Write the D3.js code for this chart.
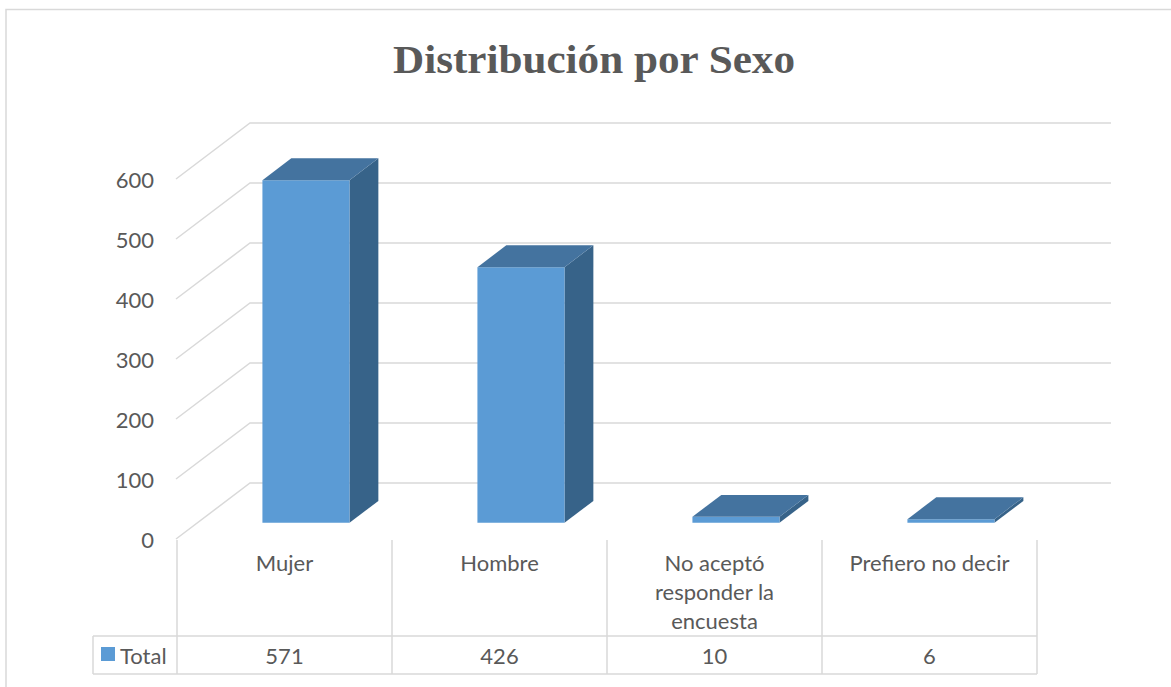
<!DOCTYPE html>
<html><head><meta charset="utf-8">
<script src="https://cdn.jsdelivr.net/npm/d3@7"></script>
<style>html,body{margin:0;padding:0;background:#fff;}</style>
</head><body>
<svg id="c" width="1171" height="687"></svg>
<script>
const categories = ["Mujer", "Hombre", "No aceptó responder la encuesta", "Prefiero no decir"];
const categoryLines = [["Mujer"], ["Hombre"], ["No aceptó", "responder la", "encuesta"], ["Prefiero no decir"]];
const values = [571, 426, 10, 6];
const seriesName = "Total";
const yTicks = [0, 100, 200, 300, 400, 500, 600];
const title = "Distribución por Sexo";

const svg = d3.select("#c");
const textColor = "#595959", gridColor = "#D9D9D9";
const font = "Lato, 'Open Sans', sans-serif";
const fs = 22;

// outer border
svg.append("rect").attr("x", 6).attr("y", 9.5).attr("width", 1200).attr("height", 720)
  .attr("fill", "#fff").attr("stroke", gridColor).attr("stroke-width", 1.5);

svg.append("text").attr("x", 594).attr("y", 73).attr("text-anchor", "middle")
  .attr("font-family", "'Liberation Serif', serif").attr("font-weight", "bold")
  .attr("font-size", 41).attr("fill", textColor)
  .attr("textLength", 402).attr("lengthAdjust", "spacingAndGlyphs").text(title);

const x = d3.scaleBand().domain(categories).range([177, 1037]);
const y = d3.scaleLinear().domain([0, 600]).range([539, 179]);
const DX = 74, DY = -56;
const P = (px, py, z) => [px + DX * z, py + DY * z];

const g = svg.append("g");
// side wall + back wall gridlines
yTicks.forEach(t => {
  const a = P(176, y(t), 0), b = P(176, y(t), 1), c = P(1037, y(t), 1);
  g.append("path").attr("d", `M${a}L${b}L${c}`).attr("fill", "none")
    .attr("stroke", gridColor).attr("stroke-width", 1.5);
  g.append("text").attr("x", 154).attr("y", y(t) + 3).attr("text-anchor", "end")
    .attr("dominant-baseline", "middle").attr("font-family", font).attr("font-size", fs)
    .attr("fill", textColor).text(t);
});

// bars
const z0 = 0.29, z1 = 0.68;
const bw = x.bandwidth() * 0.405;
categories.forEach((cat, i) => {
  const cx = x(cat) + x.bandwidth() / 2;
  const l = cx - bw / 2, r = cx + bw / 2;
  const yb = y(0), yt = y(values[i]);
  const poly = pts => pts.map(p => p.join(",")).join(" ");
  g.append("polygon").attr("points", poly([P(r, yb, z0), P(r, yb, z1), P(r, yt, z1), P(r, yt, z0)]))
    .attr("fill", "#376389");
  g.append("polygon").attr("points", poly([P(l, yb, z0), P(r, yb, z0), P(r, yt, z0), P(l, yt, z0)]))
    .attr("fill", "#5B9BD5");
  g.append("polygon").attr("points", poly([P(l, yt, z0), P(r, yt, z0), P(r, yt, z1), P(l, yt, z1)]))
    .attr("fill", "#44739F");
});

// data table
const tg = svg.append("g").attr("stroke", gridColor).attr("stroke-width", 1.5);
[636, 674].forEach(yy => tg.append("line").attr("x1", 93).attr("x2", 1037).attr("y1", yy).attr("y2", yy));
tg.append("line").attr("x1", 93).attr("x2", 93).attr("y1", 636).attr("y2", 674);
categories.concat([null]).forEach((cat) => {
  const xx = cat ? x(cat) : x.range()[1];
  tg.append("line").attr("x1", xx).attr("x2", xx).attr("y1", 540).attr("y2", 674);
});
categories.forEach((cat, i) => {
  const cx = x(cat) + x.bandwidth() / 2;
  categoryLines[i].forEach((ln, j) => {
    svg.append("text").attr("x", cx).attr("y", 565 + j * 29).attr("text-anchor", "middle")
      .attr("dominant-baseline", "middle").attr("font-family", font).attr("font-size", fs)
      .attr("fill", textColor).text(ln);
  });
  svg.append("text").attr("x", cx).attr("y", 658).attr("text-anchor", "middle")
    .attr("dominant-baseline", "middle").attr("font-family", font).attr("font-size", fs)
    .attr("fill", textColor).text(values[i]);
});
svg.append("rect").attr("x", 101).attr("y", 647).attr("width", 14).attr("height", 14).attr("fill", "#5B9BD5");
svg.append("text").attr("x", 120).attr("y", 658).attr("dominant-baseline", "middle")
  .attr("font-family", font).attr("font-size", fs).attr("fill", textColor).text(seriesName);
</script>
</body></html>
